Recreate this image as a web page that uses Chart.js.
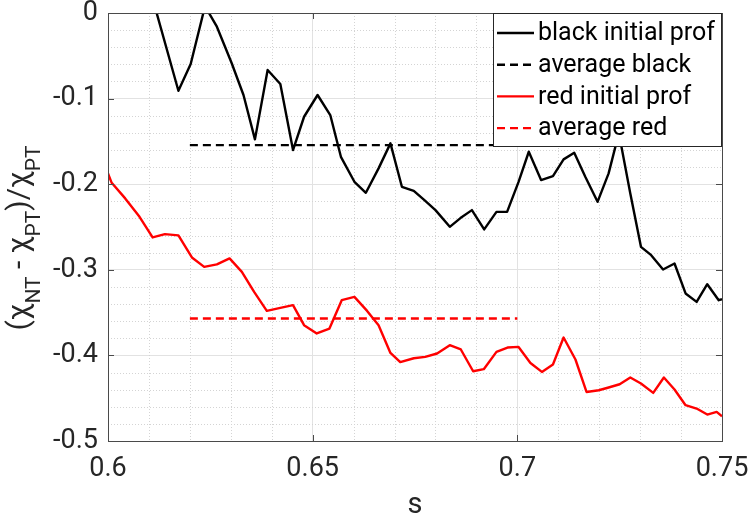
<!DOCTYPE html>
<html>
<head>
<meta charset="utf-8">
<script src="https://cdn.jsdelivr.net/npm/chart.js@4.4.1/dist/chart.umd.min.js"></script>
<style>
  html, body { margin: 0; padding: 0; background: #fff; }
  #wrap { width: 750px; height: 516px; }
</style>
</head>
<body>
<div id="wrap"><canvas id="c" width="750" height="516"></canvas></div>
<script>
// --- Data ---
const sBlack = [0.6081, 0.6113, 0.6172, 0.6202, 0.6237, 0.6266, 0.6302, 0.6331, 0.6359, 0.6390,
  0.6421, 0.6452, 0.6479, 0.6512, 0.6543, 0.6569, 0.6602, 0.6630, 0.6661, 0.6690,
  0.6718, 0.6747, 0.6773, 0.6800, 0.6835, 0.6861, 0.6889, 0.6919, 0.6949, 0.6975,
  0.7003, 0.7028, 0.7058, 0.7087, 0.7113, 0.7139, 0.7166, 0.7196, 0.7223, 0.7248,
  0.7276, 0.7302, 0.7327, 0.7356, 0.7384, 0.7411, 0.7438, 0.7464, 0.7492, 0.7500];
const vBlack = [0.04, 0.01, -0.0908, -0.0596, 0.008, -0.0160, -0.0584, -0.0958, -0.1476, -0.0666,
  -0.0830, -0.1601, -0.1212, -0.0958, -0.1192, -0.1680, -0.1972, -0.2100, -0.1815, -0.1523,
  -0.2030, -0.2077, -0.2186, -0.2303, -0.2498, -0.2396, -0.2303, -0.2528, -0.2323, -0.2323,
  -0.1972, -0.1621, -0.1952, -0.1905, -0.1710, -0.1633, -0.1913, -0.2206, -0.1874, -0.1403,
  -0.2108, -0.2732, -0.2829, -0.2996, -0.2926, -0.3276, -0.3375, -0.3168, -0.3355, -0.3343];

const sRed = [0.6000, 0.6009, 0.6042, 0.6077, 0.6109, 0.6139, 0.6172, 0.6205, 0.6235, 0.6266,
  0.6297, 0.6327, 0.6357, 0.6388, 0.6421, 0.6452, 0.6479, 0.6510, 0.6541, 0.6571,
  0.6602, 0.6633, 0.6661, 0.6690, 0.6714, 0.6747, 0.6775, 0.6804, 0.6835, 0.6862,
  0.6892, 0.6918, 0.6949, 0.6976, 0.7003, 0.7032, 0.7060, 0.7087, 0.7113, 0.7142,
  0.7169, 0.7199, 0.7223, 0.7250, 0.7276, 0.7302, 0.7332, 0.7358, 0.7384, 0.7411,
  0.7438, 0.7464, 0.7487, 0.7500];
const vRed = [-0.1874, -0.1984, -0.2166, -0.2381, -0.2622, -0.2583, -0.2598, -0.2856, -0.2966, -0.2937,
  -0.2867, -0.3024, -0.3258, -0.3480, -0.3445, -0.3413, -0.3647, -0.3744, -0.3686, -0.3355,
  -0.3316, -0.3480, -0.3647, -0.3971, -0.4079, -0.4033, -0.4017, -0.3978, -0.3881, -0.3931,
  -0.4185, -0.4161, -0.3959, -0.3908, -0.3901, -0.4088, -0.4193, -0.4106, -0.3791, -0.4048,
  -0.4427, -0.4407, -0.4375, -0.4337, -0.4258, -0.4328, -0.4438, -0.4258, -0.4399, -0.4582,
  -0.4621, -0.4691, -0.4660, -0.4711];

const avgRange = [0.62, 0.70];
const avgBlack = -0.1543;
const avgRed = -0.3569;

const seriesLabels = ['black initial prof', 'average black', 'red initial prof', 'average red'];
const xTicks = [0.6, 0.65, 0.7, 0.75];
const yTicks = [-0.5, -0.4, -0.3, -0.2, -0.1, 0];

const AX = '#262626';
const FONT = 'Roboto';
const LW = 2.4;

function pts(xs, ys) { return xs.map((x, i) => ({ x: x, y: ys[i] })); }

// --- Decoration plugin: minor grid, box, inner ticks, legend, y title ---
const deco = {
  id: 'deco',
  beforeDatasetsDraw(chart) {
    const { ctx, chartArea: a, scales: { x, y } } = chart;
    ctx.save();
    ctx.strokeStyle = '#d4d4d4';
    ctx.lineWidth = 1;
    ctx.setLineDash([1, 2]);
    for (let i = 1; i < 15; i++) {
      if (i % 5 === 0) continue;
      const px = Math.round(x.getPixelForValue(0.6 + i * 0.01)) + 0.5;
      ctx.beginPath(); ctx.moveTo(px, a.top); ctx.lineTo(px, a.bottom); ctx.stroke();
    }
    for (let i = 1; i < 25; i++) {
      if (i % 5 === 0) continue;
      const py = Math.round(y.getPixelForValue(-0.5 + i * 0.02)) + 0.5;
      ctx.beginPath(); ctx.moveTo(a.left, py); ctx.lineTo(a.right, py); ctx.stroke();
    }
    ctx.restore();
  },
  afterDatasetsDraw(chart) {
    const { ctx, chartArea: a, scales: { x, y } } = chart;
    ctx.save();
    ctx.strokeStyle = '#4a4a4a';
    ctx.lineWidth = 1;
    ctx.strokeRect(Math.round(a.left) + 0.5, Math.round(a.top) + 0.5,
      Math.round(a.right - a.left), Math.round(a.bottom - a.top));
    const tl = 6;
    ctx.beginPath();
    xTicks.forEach(v => {
      const px = Math.round(x.getPixelForValue(v)) + 0.5;
      ctx.moveTo(px, a.bottom); ctx.lineTo(px, a.bottom - tl);
      ctx.moveTo(px, a.top); ctx.lineTo(px, a.top + tl);
    });
    yTicks.forEach(v => {
      const py = Math.round(y.getPixelForValue(v)) + 0.5;
      ctx.moveTo(a.left, py); ctx.lineTo(a.left + tl, py);
      ctx.moveTo(a.right, py); ctx.lineTo(a.right - tl, py);
    });
    ctx.stroke();
    ctx.restore();
  },
  afterDraw(chart) {
    const { ctx, chartArea: a } = chart;
    // legend
    const w = 229, h = 133;
    const lx = a.right - w, ly = a.top;
    ctx.save();
    ctx.fillStyle = '#fff';
    ctx.fillRect(lx, ly, w, h);
    ctx.strokeStyle = AX;
    ctx.lineWidth = 1;
    ctx.strokeRect(Math.round(lx) + 0.5, Math.round(ly) + 0.5, w - 1, h);
    ctx.font = '25px ' + FONT;
    ctx.textBaseline = 'middle';
    chart.data.datasets.forEach((ds, i) => {
      const ry = ly + 20 + i * 31.7;
      ctx.strokeStyle = ds.borderColor;
      ctx.lineWidth = LW;
      ctx.setLineDash(ds.borderDash || []);
      ctx.beginPath(); ctx.moveTo(lx + 4, ry); ctx.lineTo(lx + 41, ry); ctx.stroke();
      ctx.setLineDash([]);
      ctx.fillStyle = '#000';
      ctx.fillText(ds.label, lx + 45, ry + 1);
    });
    ctx.restore();

    // y axis title with subscripts
    const parts = [
      ['(', 0], ['\u03c7', 0], ['NT', 1], [' - ', 0], ['\u03c7', 0], ['PT', 1],
      [')/', 0], ['\u03c7', 0], ['PT', 1]
    ];
    const mainF = '30px ' + FONT, subF = '21px ' + FONT;
    ctx.save();
    ctx.fillStyle = AX;
    ctx.textBaseline = 'alphabetic';
    let total = 0;
    parts.forEach(p => { ctx.font = p[1] ? subF : mainF; total += ctx.measureText(p[0]).width; });
    ctx.translate(28, 238);
    ctx.rotate(-Math.PI / 2);
    let cx = -total / 2;
    parts.forEach(p => {
      ctx.font = p[1] ? subF : mainF;
      ctx.fillText(p[0], cx, p[1] ? 12 : 0);
      cx += ctx.measureText(p[0]).width;
    });
    ctx.restore();
  }
};

new Chart(document.getElementById('c'), {
  type: 'line',
  data: {
    datasets: [
      { label: seriesLabels[0], data: pts(sBlack, vBlack), borderColor: '#000000', borderWidth: LW },
      { label: seriesLabels[1], data: pts(avgRange, [avgBlack, avgBlack]), borderColor: '#000000', borderWidth: LW, borderDash: [8, 5] },
      { label: seriesLabels[2], data: pts(sRed, vRed), borderColor: '#ff0000', borderWidth: LW },
      { label: seriesLabels[3], data: pts(avgRange, [avgRed, avgRed]), borderColor: '#ff0000', borderWidth: LW, borderDash: [8, 5] }
    ]
  },
  options: {
    responsive: false,
    animation: false,
    devicePixelRatio: 1,
    layout: { padding: { top: 13, right: 28, left: 0, bottom: 0 } },
    elements: { point: { radius: 0 }, line: { tension: 0, borderJoinStyle: 'round' } },
    datasets: { line: { clip: 0 } },
    plugins: { legend: { display: false }, tooltip: { enabled: false } },
    scales: {
      x: {
        type: 'linear', min: 0.6, max: 0.75,
        afterBuildTicks: s => { s.ticks = xTicks.map(v => ({ value: v })); },
        afterFit: s => { s.height = 75; s.paddingLeft = 0; s.paddingRight = 0; },
        grid: { color: '#e2e2e2', drawTicks: false },
        border: { display: false },
        ticks: { color: AX, padding: 12, font: { family: FONT, size: 27 },
          callback: v => String(Number(v.toFixed(2))) },
        title: { display: true, text: 's', color: AX, font: { family: FONT, size: 29, lineHeight: 1 },
          padding: { top: 0, bottom: -4 } }
      },
      y: {
        type: 'linear', min: -0.5, max: 0,
        afterBuildTicks: s => { s.ticks = yTicks.map(v => ({ value: v })); },
        afterFit: s => { s.width = 108; s.paddingTop = 0; s.paddingBottom = 0; },
        grid: { color: '#e2e2e2', drawTicks: false },
        border: { display: false },
        ticks: { color: AX, padding: 10, font: { family: FONT, size: 27 },
          callback: v => String(Number(v.toFixed(1))) }
      }
    }
  },
  plugins: [deco]
});
</script>
</body>
</html>
